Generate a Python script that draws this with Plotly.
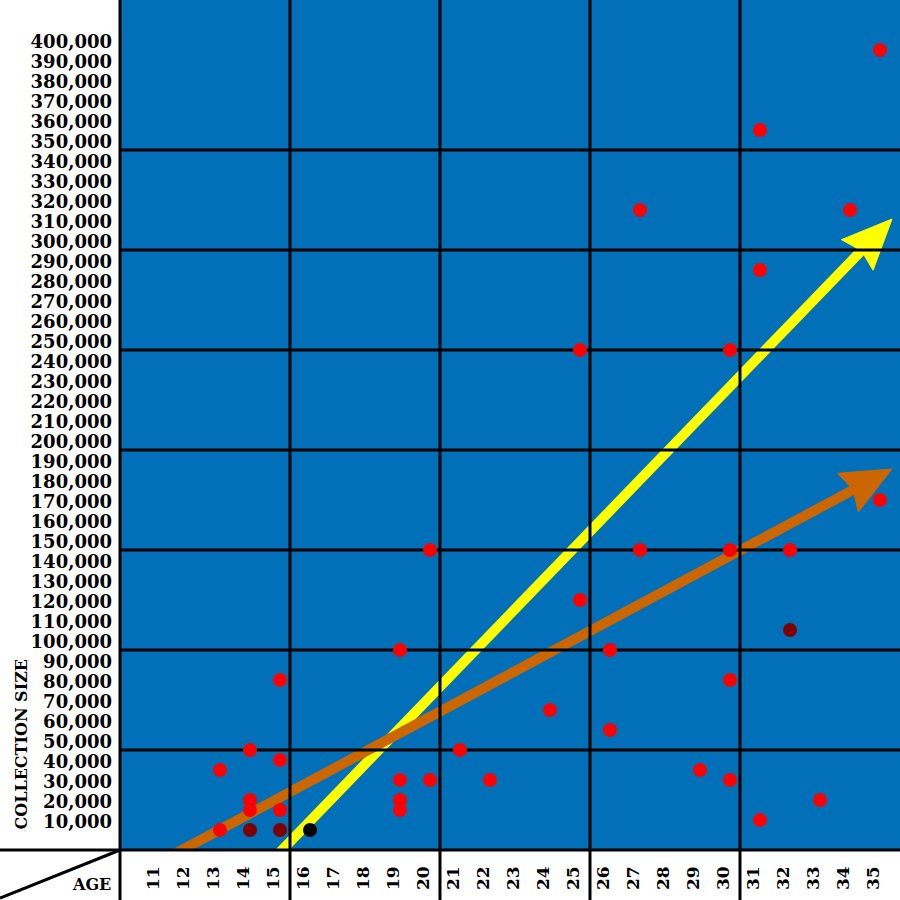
import math
import plotly.graph_objects as go

# ---------------- data ----------------
age_ticks = list(range(11, 36))
size_ticks = list(range(10000, 400001, 10000))
size_tick_labels = [f"{v:,}" for v in size_ticks]

red_ages = [13, 13, 14, 14, 14, 15, 15, 15, 19, 19, 19, 19, 20, 20, 21, 22, 24, 25, 25,
            26, 26, 27, 27, 29, 30, 30, 30, 30, 31, 31, 31, 32, 33, 34, 35, 35]
red_sizes = [40000, 10000, 50000, 25000, 20000, 85000, 45000, 20000, 100000, 35000, 25000,
             20000, 150000, 35000, 50000, 35000, 70000, 250000, 125000, 100000, 60000,
             320000, 150000, 40000, 250000, 150000, 85000, 35000, 360000, 290000, 15000,
             150000, 25000, 320000, 400000, 175000]
dark_ages = [14, 15, 32]
dark_sizes = [10000, 10000, 110000]
black_ages = [16]
black_sizes = [10000]

# trend arrows: (start age, start size) -> (end age, end size)
yellow_trend = [(15.07, 0), (35.4, 315500)]
orange_trend = [(11.73, 0), (35.4, 190500)]

group_edges = [15.333, 20.333, 25.333, 30.333]
h_grid = [50000, 100000, 150000, 200000, 250000, 300000, 350000]

# ---------------- layout constants ----------------
W, H = 900, 900
ML, MR, MT, MB = 120, 0, 0, 50
PW, PH = W - ML - MR, H - MT - MB
XR = [9.6667, 35.6667]
YR = [0, 425000]
sx = PW / (XR[1] - XR[0])
sy = PH / (YR[1] - YR[0])

BLUE = "#0170b9"
YELLOW = "#ffff00"
ORANGE = "#cc6600"
FONT = "DejaVu Serif"


def to_px(a, v):
    return ML + (a - XR[0]) * sx, MT + PH - (v - YR[0]) * sy


def to_data(px, py):
    return XR[0] + (px - ML) / sx, YR[0] + (MT + PH - py) / sy


fig = go.Figure()


def add_arrow(trend, color, width=10, head_len=50, head_half=22, notch=6):
    (a0, v0), (a1, v1) = trend
    x0, y0 = to_px(a0, v0)
    x1, y1 = to_px(a1, v1)
    dx, dy = x1 - x0, y1 - y0
    d = math.hypot(dx, dy)
    ux, uy = dx / d, dy / d
    px_, py_ = -uy, ux
    sxp, syp = x0 - 30 * ux, y0 - 30 * uy
    exp_, eyp = x1 - (head_len - notch - 2) * ux, y1 - (head_len - notch - 2) * uy
    la, lv = zip(to_data(sxp, syp), to_data(exp_, eyp))
    fig.add_trace(go.Scatter(x=list(la), y=list(lv), mode="lines",
                             line=dict(color=color, width=width),
                             hoverinfo="skip", showlegend=False))
    bx, by = x1 - head_len * ux, y1 - head_len * uy
    pts = [(x1, y1),
           (bx + head_half * px_, by + head_half * py_),
           (x1 - (head_len - notch) * ux, y1 - (head_len - notch) * uy),
           (bx - head_half * px_, by - head_half * py_),
           (x1, y1)]
    dpts = [to_data(*p) for p in pts]
    fig.add_trace(go.Scatter(x=[p[0] for p in dpts], y=[p[1] for p in dpts],
                             mode="lines", fill="toself", fillcolor=color,
                             line=dict(color=color, width=1),
                             hoverinfo="skip", showlegend=False))


add_arrow(yellow_trend, YELLOW)
add_arrow(orange_trend, ORANGE)

# horizontal grid lines (drawn above arrows, below points)
for v in h_grid:
    fig.add_trace(go.Scatter(x=[XR[0], XR[1]], y=[v, v], mode="lines",
                             line=dict(color="black", width=3),
                             hoverinfo="skip", showlegend=False))

# points
fig.add_trace(go.Scatter(x=red_ages, y=red_sizes, mode="markers",
                         marker=dict(color="#ff0000", size=14), showlegend=False))
fig.add_trace(go.Scatter(x=dark_ages, y=dark_sizes, mode="markers",
                         marker=dict(color="#800000", size=14), showlegend=False))
fig.add_trace(go.Scatter(x=black_ages, y=black_sizes, mode="markers",
                         marker=dict(color="#000000", size=14), showlegend=False))

shapes = []
for e in group_edges:
    shapes.append(dict(type="line", xref="x", yref="paper", x0=e, x1=e,
                       y0=-MB / PH, y1=1, line=dict(color="black", width=3), layer="above"))
shapes.append(dict(type="line", xref="paper", yref="paper", x0=0, x1=0,
                   y0=-MB / PH, y1=1, line=dict(color="black", width=3), layer="above"))
shapes.append(dict(type="line", xref="paper", yref="paper", x0=-ML / PW, x1=1,
                   y0=0, y1=0, line=dict(color="black", width=3), layer="above"))
shapes.append(dict(type="line", xref="paper", yref="paper", x0=0, y0=0,
                   x1=-ML / PW, y1=-48 / PH, line=dict(color="black", width=3), layer="above"))

annotations = [
    dict(text="COLLECTION SIZE", xref="paper", yref="paper",
         x=(20.5 - ML) / PW, y=(PH - 744) / PH, xanchor="center", yanchor="middle",
         textangle=-90, showarrow=False,
         font=dict(family=FONT, size=16, color="black", weight="bold")),
    dict(text="AGE", xref="paper", yref="paper",
         x=(91 - ML) / PW, y=(PH - 884) / PH, xanchor="center", yanchor="middle",
         showarrow=False, font=dict(family=FONT, size=16, color="black", weight="bold")),
]

fig.update_layout(
    width=W, height=H,
    margin=dict(l=ML, r=MR, t=MT, b=MB, pad=0),
    paper_bgcolor="white", plot_bgcolor=BLUE,
    showlegend=False,
    shapes=shapes, annotations=annotations,
    xaxis=dict(range=XR, showgrid=False, zeroline=False, showline=False,
               tickmode="array", tickvals=age_ticks, ticktext=[str(a) for a in age_ticks],
               tickangle=-90, ticks="", ticklabelshift=-7, ticklabelstandoff=12,
               tickfont=dict(family=FONT, size=17, color="black", weight="bold")),
    yaxis=dict(range=YR, showgrid=False, zeroline=False, showline=False,
               tickmode="array", tickvals=size_ticks, ticktext=size_tick_labels,
               ticks="", ticklabelshift=-8, ticklabelstandoff=7,
               tickfont=dict(family=FONT, size=18, color="black", weight="bold")),
)

fig.write_html("out.html", config={"displayModeBar": False},
               post_script="document.body.style.margin='0px';document.body.style.padding='0px';")
